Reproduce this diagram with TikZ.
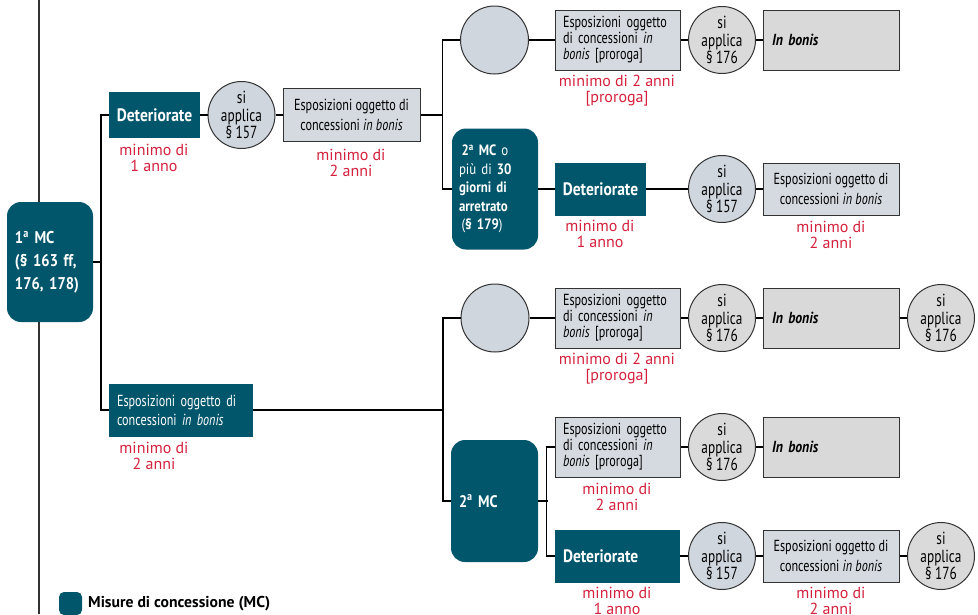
\documentclass[tikz,border=0pt]{standalone}
\usepackage{fontspec}
\setmainfont{PT Sans}
\newfontfamily\nf{PT Sans}[FakeStretch=0.76]
\newfontfamily\nfb{PT Sans}[FakeStretch=0.86]
\definecolor{mcteal}{HTML}{01566B}
\definecolor{mcred}{HTML}{D4213D}
\definecolor{bgray}{HTML}{D4DAE0}
\definecolor{igray}{HTML}{D9D9D9}
\definecolor{cgray}{HTML}{DADADA}
\definecolor{cblue}{HTML}{CFD6DD}
\definecolor{bdraw}{HTML}{333333}
\begin{document}
\begin{tikzpicture}[x=1pt,y=-1pt,
  tealbox/.style={rectangle, fill=mcteal, text=white, inner sep=0pt, font=\nfb\bfseries\fontsize{18}{20}\selectfont},
  mcbox/.style={rectangle, rounded corners=14pt, fill=mcteal, text=white, inner xsep=8pt, inner ysep=0pt, align=left},
  graybox/.style={rectangle, fill=bgray, draw=bdraw, line width=1pt, inner sep=0pt, font=\nf\fontsize{16}{19.5}\selectfont},
  probox/.style={graybox, minimum width=125pt, minimum height=60pt, text width=109pt, inner xsep=8pt, align=left, font=\nf\fontsize{16}{16}\selectfont},
  ibbox/.style={graybox, fill=igray, minimum width=136pt, minimum height=60pt, text width=118pt, inner xsep=9pt, align=left, font=\nfb\bfseries\itshape\fontsize{16}{18}\selectfont},
  circ/.style={circle, minimum size=67pt, inner sep=0pt, draw=bdraw, line width=1pt, fill=cblue, align=center, font=\nf\fontsize{17.5}{17.5}\selectfont},
  circg/.style={circ, fill=cgray},
  lab/.style={text=mcred, align=center, font=\fontsize{16}{16}\selectfont},
  con/.style={line width=1.6pt, black}]
\useasboundingbox (0,0) rectangle (978,614);

% left guide line
\coordinate (vt) at (39,0);
\coordinate (vb) at (39,614);
\draw[line width=1.2pt, bdraw] (vt) -- (vb);

% first level
\node[mcbox, minimum width=86pt, minimum height=120pt, text width=70pt,
      font=\nfb\bfseries\fontsize{17}{23}\selectfont] (MC1) at (50,262)
  {1\textsuperscript{a} MC\\(§ 163 ff,\\176, 178)};

\node[tealbox, minimum width=91pt, minimum height=46pt] (det1) at (154.5,115) {Deteriorate};
\node[lab] (l1) at (154,158) {minimo di\\1 anno};
\node[circ] (c157a) at (241.5,115) {si\\applica\\§ 157};
\node[graybox, minimum width=137pt, minimum height=53pt, align=center] (esp1) at (351.5,115)
  {Esposizioni oggetto di\\concessioni \textit{in bonis}};
\node[lab] (l2) at (351,163) {minimo di\\2 anni};

\node[tealbox, minimum width=144pt, minimum height=53pt, text width=128pt, inner xsep=8pt, align=left,
      font=\nf\fontsize{16}{19}\selectfont] (esp3) at (181,410)
  {Esposizioni oggetto di\\concessioni \textit{in bonis}};
\node[lab] (l3) at (154,456) {minimo di\\2 anni};

% upper branch
\node[circ, minimum size=68pt] (ec1) at (494.5,40) {};
\node[probox] (pro1) at (617.5,40)
  {Esposizioni oggetto\\di concessioni \textit{in}\\\textit{bonis} [proroga]};
\node[lab] (l4) at (617,91) {minimo di 2 anni\\{[proroga]}};
\node[circg] (c176a) at (722,40) {si\\applica\\§ 176};
\node[ibbox] (ib1) at (831,40) {In bonis};

\node[mcbox, minimum width=86pt, minimum height=121pt, text width=72pt, inner xsep=7pt,
      font=\nfb\fontsize{15}{18.5}\selectfont] (MC2) at (495,189)
  {\,\textbf{2\textsuperscript{a} MC} o\\più di \textbf{30}\\\textbf{giorni di}\\\textbf{arretrato}\\\,(\textbf{§ 179})};
\node[tealbox, minimum width=91pt, minimum height=53pt] (det2) at (600.5,189) {Deteriorate};
\node[lab] (l5) at (600,234) {minimo di\\1 anno};
\node[circ] (c157b) at (722,189) {si\\applica\\§ 157};
\node[graybox, minimum width=136pt, minimum height=52pt, align=center] (esp2) at (831,189)
  {Esposizioni oggetto di\\concessioni \textit{in bonis}};
\node[lab] (l6) at (831,235) {minimo di\\2 anni};

% lower branch
\node[circ, minimum size=68pt] (ec2) at (495,318) {};
\node[probox] (pro2) at (617.5,318)
  {Esposizioni oggetto\\di concessioni \textit{in}\\\textit{bonis} [proroga]};
\node[lab] (l7) at (617,369) {minimo di 2 anni\\{[proroga]}};
\node[circg] (c176b) at (722,318) {si\\applica\\§ 176};
\node[ibbox] (ib2) at (831,318) {In bonis};
\node[circg] (c176c) at (941,318) {si\\applica\\§ 176};

\node[mcbox, minimum width=87pt, minimum height=122pt, text width=71pt,
      font=\nfb\bfseries\fontsize{16.7}{22}\selectfont] (MC3) at (494.5,501)
  {2\textsuperscript{a} MC};
\node[probox] (pro3) at (617.5,447)
  {Esposizioni oggetto\\di concessioni \textit{in}\\\textit{bonis} [proroga]};
\node[lab] (l8) at (617,497) {minimo di\\2 anni};
\node[circg] (c176d) at (722,447) {si\\applica\\§ 176};
\node[ibbox] (ib3) at (831,447) {In bonis};

\node[tealbox, minimum width=125pt, minimum height=53pt, text width=109pt, inner xsep=8pt, align=left] (det3) at (617.5,556) {Deteriorate};
\node[lab] (l9) at (617,601) {minimo di\\1 anno};
\node[circ] (c157c) at (722,556) {si\\applica\\§ 157};
\node[graybox, minimum width=136pt, minimum height=52pt, align=center] (esp4) at (831,556)
  {Esposizioni oggetto di\\concessioni \textit{in bonis}};
\node[lab] (l10) at (831,601) {minimo di\\2 anni};
\node[circg] (c176e) at (941,556) {si\\applica\\§ 176};

% legend
\node[rectangle, rounded corners=5pt, fill=mcteal, minimum size=23pt, inner sep=0pt] (leg) at (70.5,603.5) {};
\node[anchor=west, inner sep=0pt, font=\bfseries\fontsize{15.7}{18}\selectfont] (legt) at (88,604) {Misure di concessione (MC)};

% connectors
\coordinate (j1) at (101,262);
\draw[con] (MC1.east) -- (j1);
\draw[con] (det1.west) -- ++(-8,0) |- (esp3.west);
\draw[con] (det1) -- (c157a) -- (esp1);
\coordinate (j2) at (442.5,115);
\draw[con] (esp1.east) -- (j2);
\draw[con] (ec1.west) -| (j2) |- (MC2.west);
\draw[con] (ec1) -- (pro1) -- (c176a) -- (ib1);
\draw[con] (MC2) -- (det2) -- (c157b) -- (esp2);

\coordinate (j3) at (443,410);
\draw[con] (esp3.east) -- (j3);
\draw[con] (ec2.west) -| (j3) |- (MC3.west);
\draw[con] (ec2) -- (pro2) -- (c176b) -- (ib2) -- (c176c);
\coordinate (j4) at (547.5,501);
\draw[con] (MC3.east) -- (j4);
\draw[con] (pro3.west) -- ++(-8,0) |- (det3.west);
\draw[con] (pro3) -- (c176d) -- (ib3);
\draw[con] (det3) -- (c157c) -- (esp4) -- (c176e);
\end{tikzpicture}
\end{document}
